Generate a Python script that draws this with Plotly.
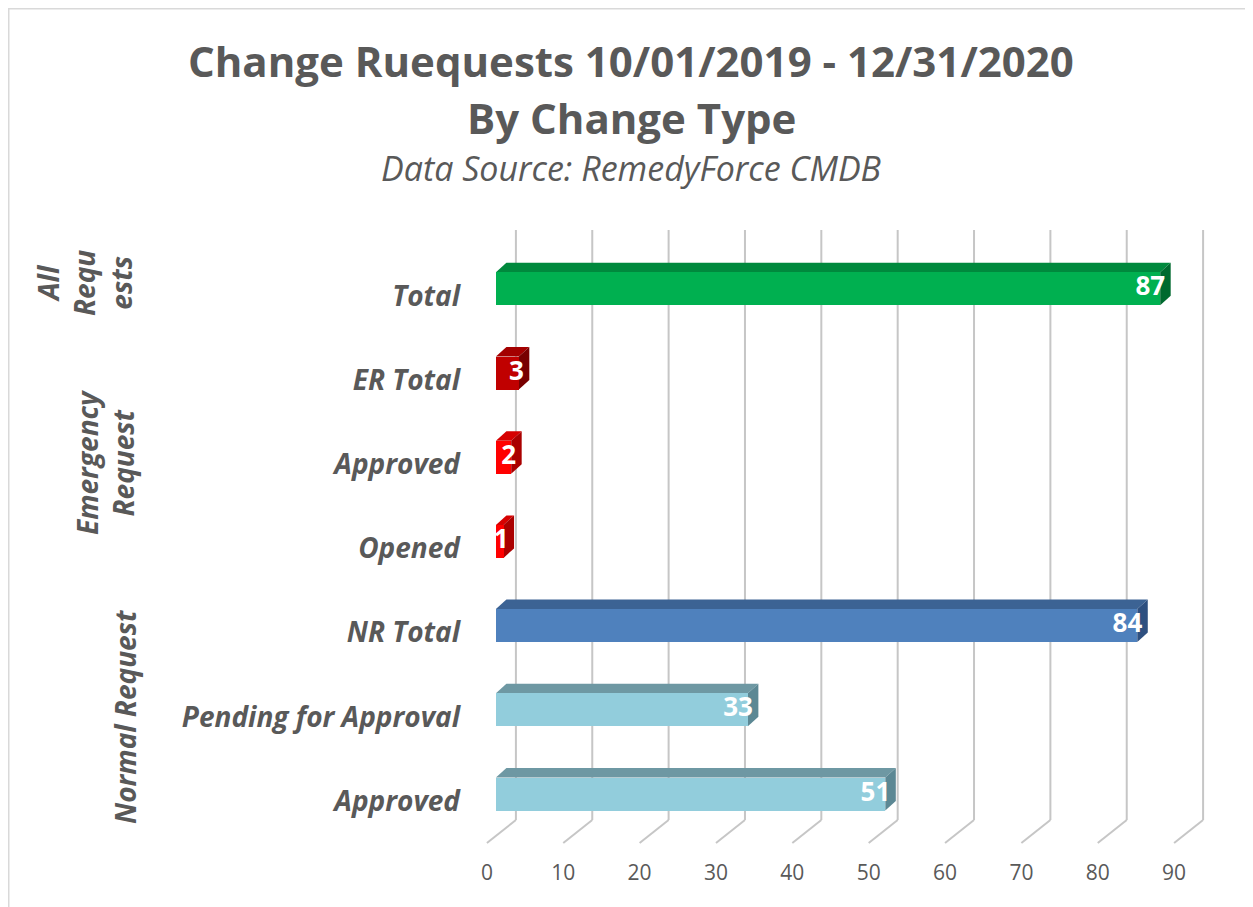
import plotly.graph_objects as go

# ---------------- data ----------------
categories = ["Total", "ER Total", "Approved", "Opened", "NR Total", "Pending for Approval", "Approved"]
values = [87, 3, 2, 1, 84, 33, 51]
groups = ["All<br>Requ<br>ests", "Emergency<br>Request", "Normal Request"]
tick_values = [0, 10, 20, 30, 40, 50, 60, 70, 80, 90]

front_colors = ["#00B050", "#C00000", "#FF0000", "#FF0000", "#4F81BD", "#92CDDC", "#92CDDC"]
top_colors = ["#00893D", "#A30000", "#D60000", "#D60000", "#3C6394", "#6E98A3", "#6E98A3"]
side_colors = ["#006A2F", "#780000", "#AA0000", "#AA0000", "#2E5080", "#5C8894", "#5C8894"]

# ---------------- geometry (style) ----------------
W, H = 1253, 907
OFF = 8                      # page body margin
L, R, T, B = 465, 55, 222, 69
XMIN, XMAX = -3, 93
px_per_unit = (W - L - R) / (XMAX - XMIN)
py_per_unit = 84.2
n = len(categories)
ypos = [n - 1 - i for i in range(n)]          # Total on top
y_bottom_px = H - B
y0_px = 794 - OFF                             # bottom bar centre
YMIN = -(y_bottom_px - y0_px) / py_per_unit
YMAX = (y0_px - T) / py_per_unit
bar_h = 33 / py_per_unit
dx = 10.5 / px_per_unit
dy = 9.5 / py_per_unit
label_dx = 5 / px_per_unit
grid_dx = 20 / px_per_unit
floor_dx = -9 / px_per_unit
grid_top = YMAX
grid_floor = -(820 - 794) / py_per_unit
floor_front = -(843 - 794) / py_per_unit


def pxx(px):
    return (px - OFF - L) / (W - L - R)


def pxy(py):
    return (H - B - (py - OFF)) / (H - T - B)


fig = go.Figure()

fig.add_trace(go.Bar(
    x=values, y=ypos, orientation="h", width=bar_h, base=0,
    marker=dict(color=front_colors, line=dict(width=0)),
    hoverinfo="x", showlegend=False,
))

fig.add_trace(go.Scatter(
    x=[v + label_dx for v in values], y=ypos, mode="text",
    text=[str(v) for v in values], textposition="middle left",
    textfont=dict(family="Open Sans", size=26, color="white", weight="bold"),
    hoverinfo="skip", showlegend=False, cliponaxis=False,
))

shapes = []
for t in tick_values:
    shapes.append(dict(type="line", xref="x", yref="y", layer="below",
                       x0=t + grid_dx, x1=t + grid_dx, y0=grid_floor, y1=grid_top,
                       line=dict(color="#C6C6C6", width=2)))
    shapes.append(dict(type="line", xref="x", yref="y", layer="below",
                       x0=t + grid_dx, x1=t + floor_dx, y0=grid_floor, y1=floor_front,
                       line=dict(color="#C6C6C6", width=2)))
for v, yc, tc, sc in zip(values, ypos, top_colors, side_colors):
    yt = yc + bar_h / 2
    yb = yc - bar_h / 2
    shapes.append(dict(type="path", xref="x", yref="y", layer="below",
                       path=f"M 0 {yt} L {dx} {yt + dy} L {v + dx} {yt + dy} L {v} {yt} Z",
                       fillcolor=tc, line=dict(width=0)))
    shapes.append(dict(type="path", xref="x", yref="y", layer="below",
                       path=f"M {v} {yt} L {v + dx} {yt + dy} L {v + dx} {yb + dy} L {v} {yb} Z",
                       fillcolor=sc, line=dict(width=0)))
shapes.append(dict(type="rect", xref="paper", yref="paper",
                   x0=pxx(8.5), x1=pxx(1280), y0=pxy(940), y1=pxy(8.5),
                   line=dict(color="#D9D9D9", width=2), layer="above"))

annotations = []
gray = "#595959"
annotations.append(dict(text="Change Ruequests 10/01/2019 - 12/31/2020", xref="paper", yref="paper",
                        x=pxx(631), y=pxy(60), showarrow=False, xanchor="center", yanchor="middle",
                        font=dict(family="Open Sans", size=42, color=gray, weight="bold")))
annotations.append(dict(text="By Change Type", xref="paper", yref="paper",
                        x=pxx(631), y=pxy(118), showarrow=False, xanchor="center", yanchor="middle",
                        font=dict(family="Open Sans", size=42, color=gray, weight="bold")))
annotations.append(dict(text="Data Source: RemedyForce CMDB", xref="paper", yref="paper",
                        x=pxx(631), y=pxy(168), showarrow=False, xanchor="center", yanchor="middle",
                        font=dict(family="Open Sans", size=34, color=gray, style="italic")))
group_pos = [(84, 283), (105, 462), (125, 717)]
for g, (gx, gy) in zip(groups, group_pos):
    annotations.append(dict(text=g, xref="paper", yref="paper", x=pxx(gx), y=pxy(gy),
                            showarrow=False, textangle=-90, xanchor="center", yanchor="middle",
                            font=dict(family="Open Sans", size=28, color=gray, weight="bold", style="italic")))

fig.update_layout(
    width=W, height=H,
    margin=dict(l=L, r=R, t=T, b=B),
    paper_bgcolor="white", plot_bgcolor="white",
    shapes=shapes, annotations=annotations,
    bargap=0,
    xaxis=dict(range=[XMIN, XMAX], showgrid=False, zeroline=False, showline=False,
               tickvals=[t - 1.18 for t in tick_values], ticktext=[str(t) for t in tick_values],
               ticks="", ticklabelstandoff=12,
               tickfont=dict(family="Open Sans", size=21, color=gray)),
    yaxis=dict(range=[YMIN, YMAX], showgrid=False, zeroline=False, showline=False,
               tickvals=[y - 7 / py_per_unit for y in ypos], ticktext=categories,
               ticks="", ticklabelstandoff=12,
               tickfont=dict(family="Open Sans", size=28, color=gray, weight="bold", style="italic")),
)

fig.write_html("out.html")
